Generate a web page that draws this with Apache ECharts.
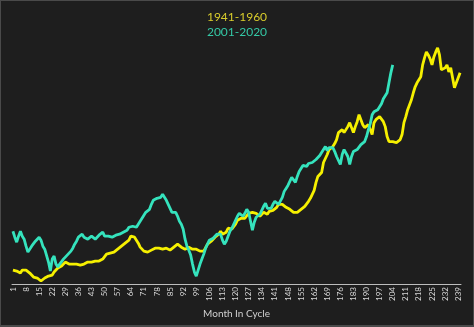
<!DOCTYPE html>
<html>
<head>
<meta charset="utf-8">
<script src="https://cdn.jsdelivr.net/npm/echarts@6/dist/echarts.min.js"></script>
<style>
  html, body { margin: 0; padding: 0; background: #4a4a4a; }
  #chart { position: absolute; left: 1px; top: 1px; width: 472px; height: 324px; }
</style>
</head>
<body>
<div id="chart"></div>
<script>
"use strict";

// months in cycle 1..240
var months = [];
for (var i = 1; i <= 240; i++) { months.push(String(i)); }

var seriesNames = ["1941-1960", "2001-2020"];

// index level (arbitrary units)
var cycle1941 = [
  14,14,13,12,11,14,15,14,12,11, 9,7,7,6,4,3,5,6,7,8,
  8,9,12,14,16,17,18,20,22,21, 20,21,20,19,20,21,19,18,20,21,
  22,23,22,23,23,24,23,24,25,27, 30,30,31,33,32,33,35,37,38,40,
  41,43,44,48,50,47,45,41,37,35, 33,32,32,33,34,35,36,37,36,35,
  35,37,36,34,34,35,37,38,40,38, 37,36,35,36,37,35,35,35,35,34,
  33,32,33,35,40,41,43,45,47,48, 50,53,50,51,52,56,55,55,57,60,
  64,66,66,65,66,68,71,73,72,72, 71,70,68,70,72,71,70,73,74,74,
  75,77,80,82,80,78,77,76,75,73, 72,71,72,73,75,77,78,80,83,86,
  90,94,102,108,110,112,122,126,130,135, 136,138,141,145,152,154,155,152,155,158,
  162,157,152,158,163,170,165,160,157,159, 160,155,150,162,165,167,168,168,163,158,
  148,143,142,143,145,142,143,145,150,162, 168,175,180,185,192,198,202,205,208,220,
  227,233,230,226,220,228,233,237,230,215, 213,217,220,213,217,207,197,197,207,212
];

var cycle2001 = [
  53,47,42,48,53,48,45,38,32,34, 38,40,43,45,47,44,38,35,33,22,
  13,25,28,20,17,20,22,25,27,29, 31,33,36,40,43,47,49,50,47,46,
  45,47,48,46,45,45,49,51,52,48, 48,48,47,47,48,49,50,50,51,52,
  52,54,57,57,58,57,57,60,62,66, 69,72,73,75,80,84,82,86,85,87,
  90,88,84,80,78,72,73,72,68,63, 60,55,45,38,34,29,20,12,8,14,
  20,25,30,36,40,44,45,46,47,50, 52,50,44,40,43,48,53,56,60,64,
  68,71,72,68,71,75,72,63,54,62, 67,68,70,72,78,81,76,78,76,80,
  83,85,80,82,87,93,96,99,103,107, 108,102,108,113,116,119,117,118,121,123,
  122,123,125,127,129,131,135,138,134,137, 138,137,133,128,126,120,130,135,134,128,
  120,128,133,135,135,137,140,141,143,148, 155,161,170,173,173,175,177,181,186,188,
  192,202,212,220
];

var myChart = echarts.init(document.getElementById("chart"));

var option = {
  backgroundColor: "#1e1e1e",
  animation: false,
  title: [
    {
      text: seriesNames[0],
      left: "center",
      top: 5,
      textStyle: { color: "#d8cc2c", fontSize: 12, fontWeight: "normal", fontFamily: "Lato" }
    },
    {
      text: seriesNames[1],
      left: "center",
      top: 20,
      textStyle: { color: "#34c9a6", fontSize: 12, fontWeight: "normal", fontFamily: "Lato" }
    }
  ],
  grid: { left: 11, right: 12, top: 34, bottom: 41 },
  xAxis: {
    type: "category",
    data: months,
    boundaryGap: true,
    name: "Month In Cycle",
    nameLocation: "middle",
    nameGap: 25,
    nameTextStyle: { color: "#d0d0d0", fontSize: 10, fontFamily: "Lato" },
    axisLine: { lineStyle: { color: "#bdbdbd", width: 1 } },
    axisTick: { show: false },
    axisLabel: {
      interval: 6,
      rotate: 90,
      hideOverlap: false,
      color: "#d8d8d8",
      fontSize: 8,
      margin: 3,
      fontFamily: "Lato"
    },
    splitLine: { show: false }
  },
  yAxis: {
    type: "value",
    min: 0,
    max: 250,
    show: false
  },
  series: [
    {
      name: seriesNames[0],
      type: "line",
      data: cycle1941,
      symbol: "none",
      lineStyle: { color: "#f6f000", width: 2.8 },
      z: 2
    },
    {
      name: seriesNames[1],
      type: "line",
      data: cycle2001,
      symbol: "none",
      lineStyle: { color: "#35e3bd", width: 2.8 },
      z: 3
    }
  ]
};

myChart.setOption(option);
</script>
</body>
</html>
